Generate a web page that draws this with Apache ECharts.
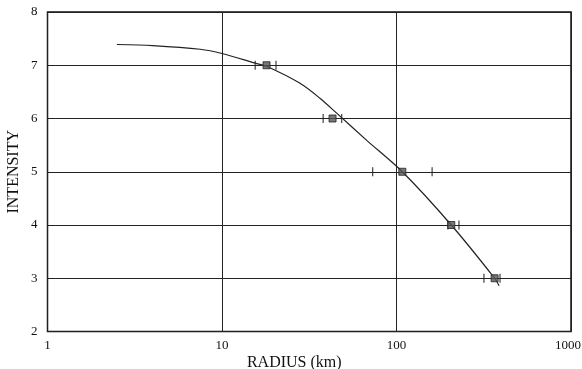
<!DOCTYPE html>
<html>
<head>
<meta charset="utf-8">
<script src="https://cdn.jsdelivr.net/npm/echarts@6/dist/echarts.min.js"></script>
<style>
  html, body { margin: 0; padding: 0; background: #fff; }
  #chart { width: 582px; height: 369px; }
</style>
</head>
<body>
<div id="chart"></div>
<script>
// observed points: radius (km) at each intensity
var intensity = [7, 6, 5, 4, 3]
var radius = [18, 43, 108, 206, 365]
// error bar ends (ticks)
var radiusLow = [15.5, 38, 73, 197, 317]
var radiusHigh = [20.4, 48.5, 160, 228, 392]
// fitted curve
var curveRadius = [2.5, 4, 7.5, 10, 15.5, 18, 28, 36.4, 45.4, 67.5, 108, 206, 365, 387]
var curveIntensity = [7.39, 7.37, 7.30, 7.22, 7.04, 6.98, 6.66, 6.38, 6.10, 5.59, 5.0, 4.0, 3.0, 2.86]

var font = 'Liberation Serif'

var chart = echarts.init(document.getElementById('chart'))

var points = radius.map(function (r, i) { return [r, intensity[i]] })
var ticks = []
radiusLow.forEach(function (r, i) { ticks.push([r, intensity[i]]) })
radiusHigh.forEach(function (r, i) { ticks.push([r, intensity[i]]) })
var curve = curveRadius.map(function (r, i) { return [r, curveIntensity[i]] })

chart.setOption({
  animation: false,
  grid: {
    left: 47.5,
    right: 11,
    top: 12,
    bottom: 37.5,
    outerBoundsMode: 'none',
    containLabel: false,
    show: true,
    borderColor: '#111',
    borderWidth: 1.5
  },
  xAxis: {
    type: 'log',
    logBase: 10,
    min: 1,
    max: 1000,
    name: 'RADIUS (km)',
    nameLocation: 'middle',
    nameGap: 23,
    nameMoveOverlap: false,
    nameTextStyle: { fontFamily: font, fontSize: 16, color: '#111', padding: [0, 30, 0, 0] },
    axisLine: { show: false },
    axisTick: { show: false },
    minorTick: { show: false },
    axisLabel: {
      fontFamily: font, fontSize: 13, color: '#111', margin: 8,
      formatter: function (v) {
        var s = String(Math.round(v))
        return v >= 1000 ? '{e|' + s + '}' : s
      },
      rich: { e: { fontFamily: font, fontSize: 13, color: '#111', padding: [0, 6, 0, 0] } }
    },
    splitLine: { show: true, lineStyle: { color: '#222', width: 1 } }
  },
  yAxis: {
    type: 'value',
    min: 2,
    max: 8,
    interval: 1,
    name: 'INTENSITY',
    nameLocation: 'middle',
    nameGap: 26,
    nameMoveOverlap: false,
    nameTextStyle: { fontFamily: font, fontSize: 16, color: '#111' },
    axisLine: { show: false },
    axisTick: { show: false },
    axisLabel: { fontFamily: font, fontSize: 13, color: '#111', margin: 10 },
    splitLine: { show: true, lineStyle: { color: '#222', width: 1.2 } }
  },
  series: [
    {
      type: 'line',
      data: curve,
      smooth: 0.3,
      showSymbol: false,
      lineStyle: { color: '#222', width: 1.2 },
      z: 3
    },
    {
      type: 'scatter',
      data: ticks,
      symbol: 'rect',
      symbolSize: [1.3, 9],
      itemStyle: { color: '#222' },
      z: 4
    },
    {
      type: 'scatter',
      data: points,
      symbol: 'rect',
      symbolSize: 7,
      itemStyle: { color: '#555', borderColor: '#222', borderWidth: 1 },
      z: 5
    }
  ]
})
</script>
</body>
</html>
